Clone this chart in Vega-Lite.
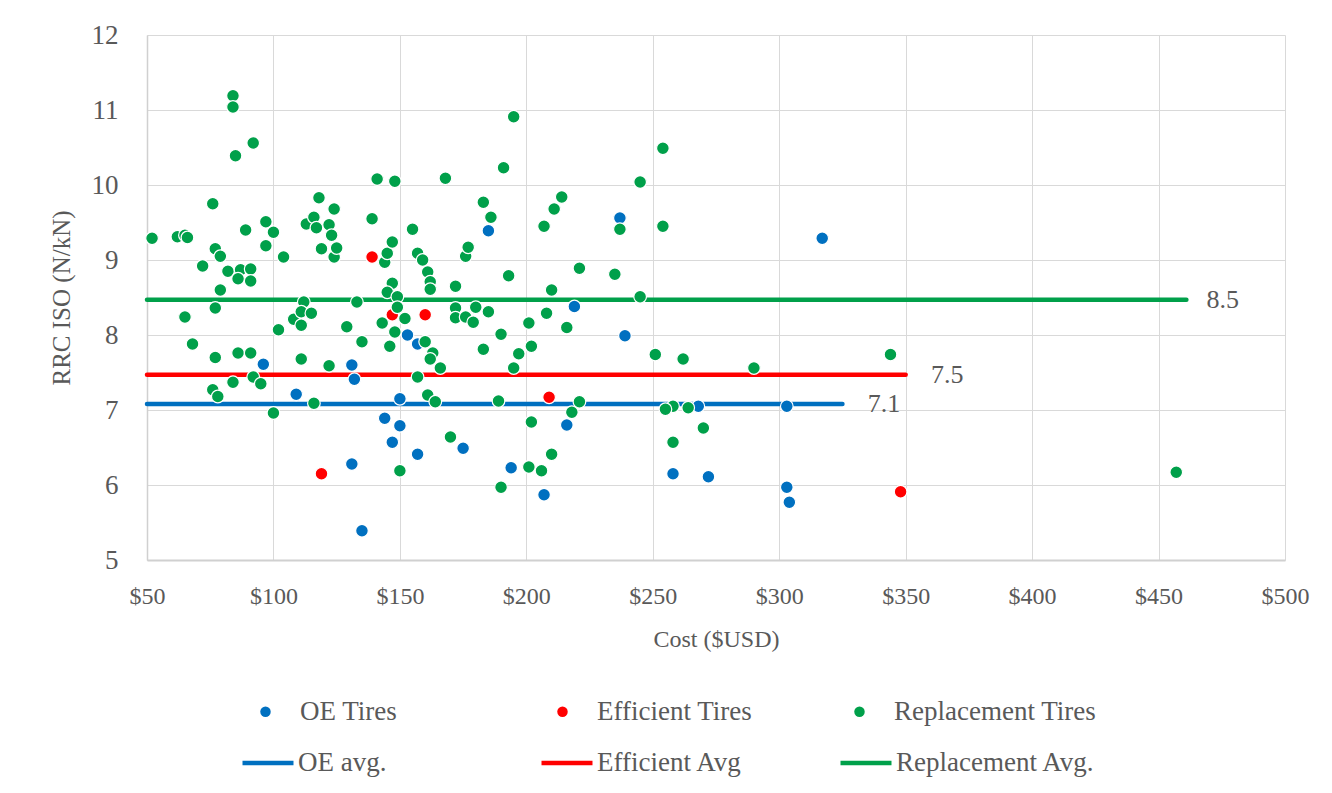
{
  "$schema": "https://vega.github.io/schema/vega-lite/v6.json",
  "width": 1138,
  "height": 525,
  "autosize": "none",
  "padding": {"left": 147, "top": 35, "right": 47, "bottom": 233},
  "background": "white",
  "config": {
    "view": {"stroke": null},
    "font": "Liberation Serif",
    "axis": {"labelColor": "#595959", "titleColor": "#595959", "labelFont": "Liberation Serif", "titleFont": "Liberation Serif", "titleFontWeight": "normal", "gridColor": "#D9D9D9", "gridWidth": 1, "ticks": false, "domainColor": "#D0D0D0", "labelFlush": false},
    "legend": {"labelFont": "Liberation Serif", "labelColor": "#595959", "labelFontSize": 27, "padding": 0, "titlePadding": 0, "labelLimit": 400}
  },
  "datasets": {
    "points": [
      {"type": "OE Tires", "cost": 96, "rrc": 7.61},
      {"type": "OE Tires", "cost": 109, "rrc": 7.21},
      {"type": "OE Tires", "cost": 119, "rrc": 6.16},
      {"type": "OE Tires", "cost": 131, "rrc": 7.60},
      {"type": "OE Tires", "cost": 132, "rrc": 7.41},
      {"type": "OE Tires", "cost": 131, "rrc": 6.28},
      {"type": "OE Tires", "cost": 135, "rrc": 5.39},
      {"type": "OE Tires", "cost": 144, "rrc": 6.89},
      {"type": "OE Tires", "cost": 147, "rrc": 6.57},
      {"type": "OE Tires", "cost": 150, "rrc": 6.79},
      {"type": "OE Tires", "cost": 150, "rrc": 7.15},
      {"type": "OE Tires", "cost": 153, "rrc": 8.00},
      {"type": "OE Tires", "cost": 157, "rrc": 7.88},
      {"type": "OE Tires", "cost": 157, "rrc": 6.41},
      {"type": "OE Tires", "cost": 175, "rrc": 6.49},
      {"type": "OE Tires", "cost": 185, "rrc": 9.39},
      {"type": "OE Tires", "cost": 194, "rrc": 6.23},
      {"type": "OE Tires", "cost": 207, "rrc": 5.87},
      {"type": "OE Tires", "cost": 216, "rrc": 6.80},
      {"type": "OE Tires", "cost": 219, "rrc": 8.38},
      {"type": "OE Tires", "cost": 237, "rrc": 9.56},
      {"type": "OE Tires", "cost": 239, "rrc": 7.99},
      {"type": "OE Tires", "cost": 258, "rrc": 6.15},
      {"type": "OE Tires", "cost": 268, "rrc": 7.05},
      {"type": "OE Tires", "cost": 272, "rrc": 6.11},
      {"type": "OE Tires", "cost": 303, "rrc": 7.05},
      {"type": "OE Tires", "cost": 303, "rrc": 5.97},
      {"type": "OE Tires", "cost": 304, "rrc": 5.77},
      {"type": "OE Tires", "cost": 317, "rrc": 9.29},
      {"type": "Efficient Tires", "cost": 119, "rrc": 6.15},
      {"type": "Efficient Tires", "cost": 139, "rrc": 9.04},
      {"type": "Efficient Tires", "cost": 147, "rrc": 8.27},
      {"type": "Efficient Tires", "cost": 160, "rrc": 8.27},
      {"type": "Efficient Tires", "cost": 209, "rrc": 7.17},
      {"type": "Efficient Tires", "cost": 348, "rrc": 5.91},
      {"type": "Replacement Tires", "cost": 52, "rrc": 9.29},
      {"type": "Replacement Tires", "cost": 62, "rrc": 9.31},
      {"type": "Replacement Tires", "cost": 65, "rrc": 9.33},
      {"type": "Replacement Tires", "cost": 66, "rrc": 9.30},
      {"type": "Replacement Tires", "cost": 72, "rrc": 8.92},
      {"type": "Replacement Tires", "cost": 65, "rrc": 8.24},
      {"type": "Replacement Tires", "cost": 68, "rrc": 7.88},
      {"type": "Replacement Tires", "cost": 76, "rrc": 9.75},
      {"type": "Replacement Tires", "cost": 77, "rrc": 9.15},
      {"type": "Replacement Tires", "cost": 79, "rrc": 9.05},
      {"type": "Replacement Tires", "cost": 79, "rrc": 8.60},
      {"type": "Replacement Tires", "cost": 77, "rrc": 8.36},
      {"type": "Replacement Tires", "cost": 77, "rrc": 7.70},
      {"type": "Replacement Tires", "cost": 76, "rrc": 7.27},
      {"type": "Replacement Tires", "cost": 78, "rrc": 7.18},
      {"type": "Replacement Tires", "cost": 84, "rrc": 11.19},
      {"type": "Replacement Tires", "cost": 84, "rrc": 11.04},
      {"type": "Replacement Tires", "cost": 85, "rrc": 10.39},
      {"type": "Replacement Tires", "cost": 92, "rrc": 10.56},
      {"type": "Replacement Tires", "cost": 82, "rrc": 8.85},
      {"type": "Replacement Tires", "cost": 87, "rrc": 8.87},
      {"type": "Replacement Tires", "cost": 86, "rrc": 8.75},
      {"type": "Replacement Tires", "cost": 89, "rrc": 9.40},
      {"type": "Replacement Tires", "cost": 86, "rrc": 7.76},
      {"type": "Replacement Tires", "cost": 84, "rrc": 7.37},
      {"type": "Replacement Tires", "cost": 91, "rrc": 7.76},
      {"type": "Replacement Tires", "cost": 91, "rrc": 8.88},
      {"type": "Replacement Tires", "cost": 91, "rrc": 8.72},
      {"type": "Replacement Tires", "cost": 97, "rrc": 9.51},
      {"type": "Replacement Tires", "cost": 97, "rrc": 9.19},
      {"type": "Replacement Tires", "cost": 100, "rrc": 9.37},
      {"type": "Replacement Tires", "cost": 92, "rrc": 7.44},
      {"type": "Replacement Tires", "cost": 95, "rrc": 7.35},
      {"type": "Replacement Tires", "cost": 100, "rrc": 6.96},
      {"type": "Replacement Tires", "cost": 104, "rrc": 9.04},
      {"type": "Replacement Tires", "cost": 102, "rrc": 8.07},
      {"type": "Replacement Tires", "cost": 108, "rrc": 8.21},
      {"type": "Replacement Tires", "cost": 112, "rrc": 8.44},
      {"type": "Replacement Tires", "cost": 111, "rrc": 8.31},
      {"type": "Replacement Tires", "cost": 111, "rrc": 8.13},
      {"type": "Replacement Tires", "cost": 111, "rrc": 7.68},
      {"type": "Replacement Tires", "cost": 113, "rrc": 9.48},
      {"type": "Replacement Tires", "cost": 115, "rrc": 8.29},
      {"type": "Replacement Tires", "cost": 116, "rrc": 7.09},
      {"type": "Replacement Tires", "cost": 116, "rrc": 9.57},
      {"type": "Replacement Tires", "cost": 117, "rrc": 9.43},
      {"type": "Replacement Tires", "cost": 118, "rrc": 9.83},
      {"type": "Replacement Tires", "cost": 119, "rrc": 9.15},
      {"type": "Replacement Tires", "cost": 122, "rrc": 9.47},
      {"type": "Replacement Tires", "cost": 123, "rrc": 9.33},
      {"type": "Replacement Tires", "cost": 124, "rrc": 9.04},
      {"type": "Replacement Tires", "cost": 124, "rrc": 9.68},
      {"type": "Replacement Tires", "cost": 125, "rrc": 9.16},
      {"type": "Replacement Tires", "cost": 122, "rrc": 7.59},
      {"type": "Replacement Tires", "cost": 129, "rrc": 8.11},
      {"type": "Replacement Tires", "cost": 133, "rrc": 8.44},
      {"type": "Replacement Tires", "cost": 135, "rrc": 7.91},
      {"type": "Replacement Tires", "cost": 139, "rrc": 9.55},
      {"type": "Replacement Tires", "cost": 141, "rrc": 10.08},
      {"type": "Replacement Tires", "cost": 148, "rrc": 10.05},
      {"type": "Replacement Tires", "cost": 143, "rrc": 8.16},
      {"type": "Replacement Tires", "cost": 144, "rrc": 8.97},
      {"type": "Replacement Tires", "cost": 145, "rrc": 9.09},
      {"type": "Replacement Tires", "cost": 147, "rrc": 9.24},
      {"type": "Replacement Tires", "cost": 146, "rrc": 7.85},
      {"type": "Replacement Tires", "cost": 147, "rrc": 8.69},
      {"type": "Replacement Tires", "cost": 145, "rrc": 8.57},
      {"type": "Replacement Tires", "cost": 149, "rrc": 8.51},
      {"type": "Replacement Tires", "cost": 149, "rrc": 8.37},
      {"type": "Replacement Tires", "cost": 148, "rrc": 8.04},
      {"type": "Replacement Tires", "cost": 152, "rrc": 8.22},
      {"type": "Replacement Tires", "cost": 150, "rrc": 6.19},
      {"type": "Replacement Tires", "cost": 155, "rrc": 9.41},
      {"type": "Replacement Tires", "cost": 157, "rrc": 9.09},
      {"type": "Replacement Tires", "cost": 159, "rrc": 9.00},
      {"type": "Replacement Tires", "cost": 161, "rrc": 8.84},
      {"type": "Replacement Tires", "cost": 162, "rrc": 8.71},
      {"type": "Replacement Tires", "cost": 162, "rrc": 8.61},
      {"type": "Replacement Tires", "cost": 160, "rrc": 7.91},
      {"type": "Replacement Tires", "cost": 157, "rrc": 7.44},
      {"type": "Replacement Tires", "cost": 161, "rrc": 7.20},
      {"type": "Replacement Tires", "cost": 163, "rrc": 7.76},
      {"type": "Replacement Tires", "cost": 162, "rrc": 7.68},
      {"type": "Replacement Tires", "cost": 164, "rrc": 7.11},
      {"type": "Replacement Tires", "cost": 166, "rrc": 7.56},
      {"type": "Replacement Tires", "cost": 168, "rrc": 10.09},
      {"type": "Replacement Tires", "cost": 170, "rrc": 6.64},
      {"type": "Replacement Tires", "cost": 172, "rrc": 8.65},
      {"type": "Replacement Tires", "cost": 172, "rrc": 8.36},
      {"type": "Replacement Tires", "cost": 172, "rrc": 8.23},
      {"type": "Replacement Tires", "cost": 176, "rrc": 8.24},
      {"type": "Replacement Tires", "cost": 180, "rrc": 8.37},
      {"type": "Replacement Tires", "cost": 179, "rrc": 8.17},
      {"type": "Replacement Tires", "cost": 185, "rrc": 8.31},
      {"type": "Replacement Tires", "cost": 176, "rrc": 9.05},
      {"type": "Replacement Tires", "cost": 177, "rrc": 9.17},
      {"type": "Replacement Tires", "cost": 183, "rrc": 7.81},
      {"type": "Replacement Tires", "cost": 183, "rrc": 9.77},
      {"type": "Replacement Tires", "cost": 186, "rrc": 9.57},
      {"type": "Replacement Tires", "cost": 191, "rrc": 10.23},
      {"type": "Replacement Tires", "cost": 195, "rrc": 10.91},
      {"type": "Replacement Tires", "cost": 193, "rrc": 8.79},
      {"type": "Replacement Tires", "cost": 190, "rrc": 8.01},
      {"type": "Replacement Tires", "cost": 197, "rrc": 7.75},
      {"type": "Replacement Tires", "cost": 195, "rrc": 7.56},
      {"type": "Replacement Tires", "cost": 189, "rrc": 7.12},
      {"type": "Replacement Tires", "cost": 190, "rrc": 5.97},
      {"type": "Replacement Tires", "cost": 201, "rrc": 8.16},
      {"type": "Replacement Tires", "cost": 208, "rrc": 8.29},
      {"type": "Replacement Tires", "cost": 216, "rrc": 8.10},
      {"type": "Replacement Tires", "cost": 202, "rrc": 7.85},
      {"type": "Replacement Tires", "cost": 221, "rrc": 7.11},
      {"type": "Replacement Tires", "cost": 218, "rrc": 6.97},
      {"type": "Replacement Tires", "cost": 202, "rrc": 6.84},
      {"type": "Replacement Tires", "cost": 210, "rrc": 6.41},
      {"type": "Replacement Tires", "cost": 201, "rrc": 6.24},
      {"type": "Replacement Tires", "cost": 206, "rrc": 6.19},
      {"type": "Replacement Tires", "cost": 254, "rrc": 10.49},
      {"type": "Replacement Tires", "cost": 245, "rrc": 10.04},
      {"type": "Replacement Tires", "cost": 214, "rrc": 9.84},
      {"type": "Replacement Tires", "cost": 211, "rrc": 9.68},
      {"type": "Replacement Tires", "cost": 207, "rrc": 9.45},
      {"type": "Replacement Tires", "cost": 237, "rrc": 9.41},
      {"type": "Replacement Tires", "cost": 254, "rrc": 9.45},
      {"type": "Replacement Tires", "cost": 221, "rrc": 8.89},
      {"type": "Replacement Tires", "cost": 235, "rrc": 8.81},
      {"type": "Replacement Tires", "cost": 210, "rrc": 8.60},
      {"type": "Replacement Tires", "cost": 245, "rrc": 8.51},
      {"type": "Replacement Tires", "cost": 251, "rrc": 7.74},
      {"type": "Replacement Tires", "cost": 262, "rrc": 7.68},
      {"type": "Replacement Tires", "cost": 258, "rrc": 7.05},
      {"type": "Replacement Tires", "cost": 255, "rrc": 7.01},
      {"type": "Replacement Tires", "cost": 264, "rrc": 7.03},
      {"type": "Replacement Tires", "cost": 270, "rrc": 6.76},
      {"type": "Replacement Tires", "cost": 258, "rrc": 6.57},
      {"type": "Replacement Tires", "cost": 290, "rrc": 7.56},
      {"type": "Replacement Tires", "cost": 344, "rrc": 7.74},
      {"type": "Replacement Tires", "cost": 457, "rrc": 6.17}
    ],
    "avgs": [
      {"series": "OE avg.", "cost": 50, "cost2": 325, "rrc": 7.08, "lcost": 335, "label": "7.1"},
      {"series": "Efficient Avg", "cost": 50, "cost2": 350, "rrc": 7.47, "lcost": 360, "label": "7.5"},
      {"series": "Replacement Avg.", "cost": 50, "cost2": 461, "rrc": 8.47, "lcost": 469, "label": "8.5"}
    ]
  },
  "layer": [
    {
      "data": {"name": "avgs"},
      "mark": {"type": "rule", "strokeWidth": 4.5, "strokeCap": "round"},
      "encoding": {
        "x": {"field": "cost", "type": "quantitative", "title": "Cost ($USD)", "scale": {"domain": [50, 500], "nice": false, "zero": false},
              "axis": {"values": [50, 100, 150, 200, 250, 300, 350, 400, 450, 500], "format": "$.0f", "labelFontSize": 24, "labelPadding": 24, "titleFontSize": 24, "titlePadding": 19, "grid": true, "domainWidth": 2}},
        "x2": {"field": "cost2"},
        "y": {"field": "rrc", "type": "quantitative", "title": "RRC ISO (N/kN)", "scale": {"domain": [5, 12], "nice": false, "zero": false},
              "axis": {"values": [5, 6, 7, 8, 9, 10, 11, 12], "format": "d", "labelFontSize": 27, "labelPadding": 29, "titleFontSize": 25, "titlePadding": 17, "grid": true, "domainWidth": 1.5}},
        "color": {"field": "series", "type": "nominal",
                  "scale": {"domain": ["OE avg.", "Efficient Avg", "Replacement Avg."], "range": ["#0070C0", "#FF0000", "#00A04A"]},
                  "legend": {"title": null, "orient": "none", "legendX": 93, "legendY": 700, "direction": "horizontal", "columns": 3, "gridAlign": "all", "symbolType": "stroke", "symbolSize": 2600, "symbolStrokeWidth": 4.5, "labelOffset": 2, "columnPadding": 35}}
      }
    },
    {
      "data": {"name": "avgs"},
      "mark": {"type": "text", "align": "left", "baseline": "middle", "fontSize": 26, "color": "#595959", "font": "Liberation Serif"},
      "encoding": {
        "x": {"field": "lcost", "type": "quantitative", "title": "Cost ($USD)"},
        "y": {"field": "rrc", "type": "quantitative", "title": "RRC ISO (N/kN)"},
        "text": {"field": "label"}
      }
    },
    {
      "data": {"name": "points"},
      "mark": {"type": "point", "filled": true, "size": 160, "opacity": 1, "stroke": "white", "strokeWidth": 1.2},
      "encoding": {
        "x": {"field": "cost", "type": "quantitative", "title": "Cost ($USD)"},
        "y": {"field": "rrc", "type": "quantitative", "title": "RRC ISO (N/kN)"},
        "color": {"field": "type", "type": "nominal",
                  "scale": {"domain": ["OE Tires", "Efficient Tires", "Replacement Tires"], "range": ["#0070C0", "#FF0000", "#00A04A"]},
                  "legend": {"title": null, "orient": "none", "legendX": 105, "legendY": 663, "direction": "horizontal", "columns": 3, "gridAlign": "all", "symbolType": "circle", "symbolSize": 110, "symbolStrokeWidth": 0, "labelOffset": 21, "columnPadding": 46}}
      }
    }
  ],
  "resolve": {"scale": {"color": "independent"}}
}
